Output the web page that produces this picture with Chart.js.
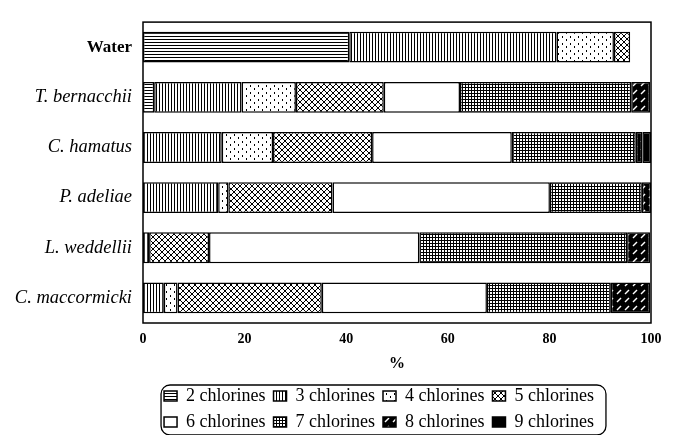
<!DOCTYPE html>
<html>
<head>
<meta charset="utf-8">
<script src="https://cdn.jsdelivr.net/npm/chart.js@4/dist/chart.umd.min.js"></script>
<style>
  html, body { margin: 0; padding: 0; background: #fff; }
</style>
</head>
<body>
<canvas id="chart" width="676" height="435"></canvas>
<script>
// Chlorine homologue profile (%) per sample
const species = ['Water', 'T. bernacchii', 'C. hamatus', 'P. adeliae', 'L. weddellii', 'C. maccormicki'];
const seriesNames = ['2 chlorines', '3 chlorines', '4 chlorines', '5 chlorines',
                     '6 chlorines', '7 chlorines', '8 chlorines', '9 chlorines'];
const cl2 = [40.6, 2.2, 0, 0, 0, 0];
const cl3 = [40.8, 17.2, 15.5, 14.8, 1.2, 4.1];
const cl4 = [11.3, 10.7, 10.1, 2.0, 0, 2.7];
const cl5 = [3.2, 17.3, 19.5, 20.5, 11.8, 28.4];
const cl6 = [0, 15.0, 27.5, 42.8, 41.4, 32.5];
const cl7 = [0, 33.7, 24.4, 18.1, 40.9, 24.4];
const cl8 = [0, 3.7, 1.3, 1.8, 4.5, 7.7];
const cl9 = [0, 0, 1.7, 0, 0, 0];
const xTicks = [0, 20, 40, 60, 80, 100];

const SERIF = "'Liberation Serif', 'Times New Roman', serif";
Chart.defaults.font.family = SERIF;
Chart.defaults.color = '#000';

const canvas = document.getElementById('chart');
const ctx = canvas.getContext('2d');

// small hatch tiles, like the old b/w print
function makePattern(w, h, draw, bg) {
  const c = document.createElement('canvas');
  c.width = w; c.height = h;
  const g = c.getContext('2d');
  g.fillStyle = bg || '#fff';
  g.fillRect(0, 0, w, h);
  g.fillStyle = '#000';
  g.strokeStyle = '#000';
  draw(g);
  return ctx.createPattern(c, 'repeat');
}

const fills = [
  makePattern(4, 3, g => g.fillRect(0, 0, 4, 1)),
  makePattern(3, 4, g => g.fillRect(0, 0, 1, 4)),
  makePattern(8, 7, g => { g.fillRect(2, 1, 1, 2); g.fillRect(6, 4, 1, 2); }),
  makePattern(6, 6, g => {
    g.lineWidth = 1;
    g.beginPath();
    g.moveTo(0, 0); g.lineTo(6, 6);
    g.moveTo(6, 0); g.lineTo(0, 6);
    g.stroke();
  }),
  '#ffffff',
  makePattern(3, 3, g => { g.fillRect(0, 0, 3, 1); g.fillRect(0, 0, 1, 3); }),
  makePattern(8, 8, g => {
    g.strokeStyle = '#fff';
    g.lineWidth = 1.5;
    g.beginPath();
    g.moveTo(1, 6); g.lineTo(5, 2);
    g.stroke();
  }, '#000'),
  '#000000'
];

const seriesValues = [cl2, cl3, cl4, cl5, cl6, cl7, cl8, cl9];

const datasets = seriesNames.map((name, i) => ({
  label: name,
  data: seriesValues[i],
  backgroundColor: fills[i],
  borderColor: '#000',
  borderWidth: 1.5,
  borderSkipped: false,
  barPercentage: 0.615,
  categoryPercentage: 1.0
}));

// frame round the plot and the rounded box round the legend
const framePlugin = {
  id: 'framePlugin',
  afterLayout(chart) {
    const lg = chart.legend;
    lg.top += 6;
    lg.bottom += 6;
    lg.left -= 18;
    lg.right -= 18;
  },
  afterDraw(chart) {
    const c = chart.ctx;
    const a = chart.chartArea;
    c.save();
    c.strokeStyle = '#000';
    c.lineWidth = 1.5;
    c.strokeRect(a.left, a.top, a.right - a.left, a.bottom - a.top);

    const lg = chart.legend;
    const hb = lg.legendHitBoxes;
    if (hb && hb.length) {
      const x0 = Math.min(...hb.map(b => b.left)) - 3;
      const x1 = Math.max(...hb.map(b => b.left + b.width)) + 12;
      const y0 = lg.top + 6;
      const y1 = lg.bottom - 6;
      const r = 9;
      c.lineWidth = 1.3;
      c.beginPath();
      c.moveTo(x0 + r, y0);
      c.arcTo(x1, y0, x1, y1, r);
      c.arcTo(x1, y1, x0, y1, r);
      c.arcTo(x0, y1, x0, y0, r);
      c.arcTo(x0, y0, x1, y0, r);
      c.closePath();
      c.stroke();
    }
    c.restore();
  }
};

new Chart(canvas, {
  type: 'bar',
  data: { labels: species, datasets: datasets },
  plugins: [framePlugin],
  options: {
    responsive: false,
    animation: false,
    indexAxis: 'y',
    layout: { padding: { top: 11, right: 25, left: 0, bottom: 0 } },
    scales: {
      x: {
        stacked: true,
        min: 0,
        max: 100,
        afterBuildTicks: axis => { axis.ticks = xTicks.map(v => ({ value: v })); },
        afterFit: axis => { axis.height = 50; },
        grid: { display: false, drawTicks: false },
        border: { display: false },
        ticks: { padding: 8, font: { size: 14, weight: 'bold' }, color: '#000' },
        title: {
          display: true,
          text: '%',
          padding: { top: 4, bottom: 0 },
          font: { size: 16, weight: 'bold' },
          color: '#000'
        }
      },
      y: {
        stacked: true,
        afterFit: axis => { axis.width = 143; },
        grid: { display: false, drawTicks: false },
        border: { display: false },
        ticks: {
          padding: 11,
          color: '#000',
          font: c => c.index === 0
            ? { size: 17, weight: 'bold', style: 'normal' }
            : { size: 18.5, weight: 'normal', style: 'italic' }
        }
      }
    },
    plugins: {
      legend: {
        position: 'bottom',
        fullSize: false,
        labels: {
          boxWidth: 13,
          boxHeight: 10,
          padding: 8,
          color: '#000',
          font: { size: 18 }
        }
      },
      tooltip: { enabled: false }
    }
  }
});
</script>
</body>
</html>
